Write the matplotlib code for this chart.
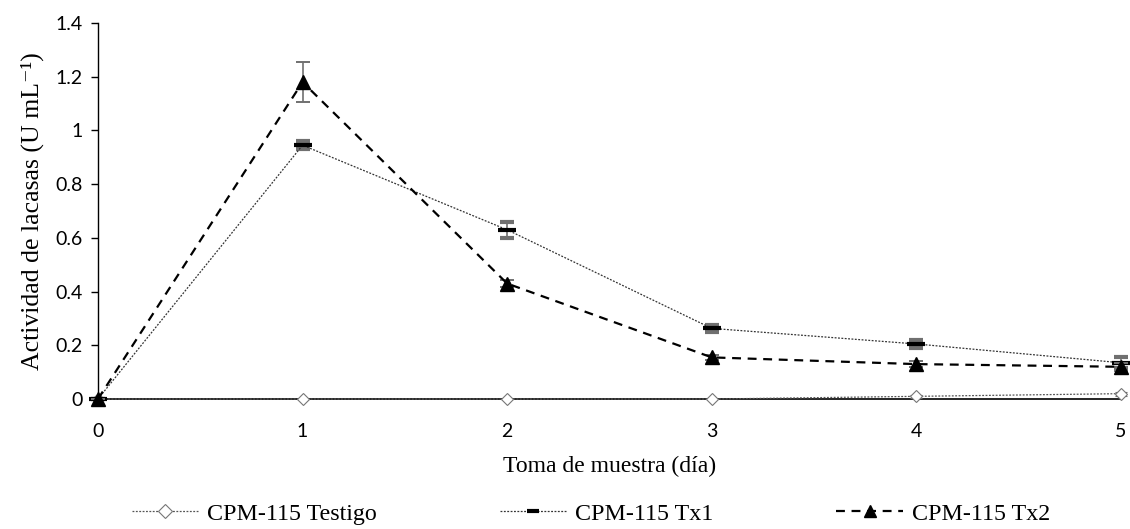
import matplotlib
matplotlib.use("Agg")
import matplotlib.pyplot as plt
from matplotlib.lines import Line2D

days = [0, 1, 2, 3, 4, 5]
testigo = [0, 0, 0, 0, 0.01, 0.02]
testigo_err = [0, 0, 0, 0, 0.005, 0.008]
tx1 = [0, 0.945, 0.63, 0.263, 0.205, 0.135]
tx1_err = [0, 0.015, 0.03, 0.012, 0.015, 0.02]
tx2 = [0, 1.18, 0.43, 0.155, 0.13, 0.12]
tx2_err = [0, 0.075, 0.012, 0.01, 0.012, 0.015]
labels = ["CPM-115 Testigo", "CPM-115 Tx1", "CPM-115 Tx2"]

fig = plt.figure(figsize=(11.3, 5.29), dpi=100)
ax = fig.add_axes([0.0867, 0.2457, 0.9053, 0.7108])

ecol = "#707070"
st0 = dict(color="#555555", ls=(0, (1.5, 1.2)), lw=0.9, marker="D", ms=6, mfc="white", mec="#777777", mew=0.8)
st1 = dict(color="#333333", ls=(0, (1.5, 1.2)), lw=0.9, marker="_", ms=13, mec="black", mew=3)
st2 = dict(color="black", ls=(0, (4, 3)), lw=1.6, marker="^", ms=10, mfc="black", mec="black")

ax.errorbar(days, testigo, yerr=testigo_err, ecolor=ecol, elinewidth=1.2, capsize=4, capthick=1.2, zorder=3, **st0)
ax.errorbar(days, tx1, yerr=tx1_err, ecolor=ecol, elinewidth=1.2, capsize=5, capthick=1.4, zorder=4, **st1)
ax.errorbar(days, tx2, yerr=tx2_err, ecolor=ecol, elinewidth=1.2, capsize=5, capthick=1.4, zorder=5, **st2)

ax.set_xlim(0, 5)
ax.set_ylim(0, 1.4)
ax.set_xticks(days)
ax.set_yticks([0, 0.2, 0.4, 0.6, 0.8, 1.0, 1.2, 1.4])
ax.set_yticklabels(["0", "0.2", "0.4", "0.6", "0.8", "1", "1.2", "1.4"])
for s in ["top", "right"]:
    ax.spines[s].set_visible(False)
ax.spines["left"].set_linewidth(1.0)
ax.spines["bottom"].set_linewidth(1.2)
ax.tick_params(axis="y", direction="out", length=5, width=1, labelsize=14, pad=6)
ax.tick_params(axis="x", length=0, labelsize=14, pad=17)
for t in ax.get_xticklabels() + ax.get_yticklabels():
    t.set_fontfamily("Lato")
for c in ax.get_children():
    try:
        c.set_clip_on(False)
    except Exception:
        pass

ax.set_xlabel("Toma de muestra (día)", fontfamily="Liberation Serif", fontsize=17, labelpad=12)
ax.set_ylabel("Actividad de lacasas (U mL\u207b\u00b9)", fontfamily=["Liberation Serif", "DejaVu Serif"],
              fontsize=18.5, labelpad=8)

handles = [Line2D([], [], **st0), Line2D([], [], **st1), Line2D([], [], **st2)]
handles[0].set_markersize(7)
handles[1].set_markersize(9)
handles[2].set_markersize(8)
fig.legend(handles, labels, loc="lower left", bbox_to_anchor=(0.108, -0.01), ncol=3, frameon=False,
           prop={"family": "Liberation Serif", "size": 17.3}, columnspacing=5.1, handlelength=2.8,
           handletextpad=0.35, borderaxespad=0.0)
fig.savefig("out.png", dpi=100)
